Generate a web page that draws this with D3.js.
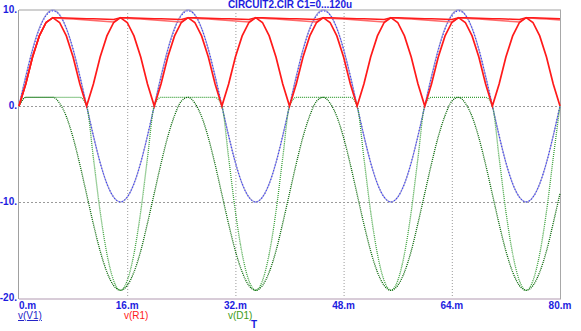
<!DOCTYPE html>
<html><head><meta charset="utf-8">
<script src="https://cdn.jsdelivr.net/npm/d3@7"></script>
<style>body{margin:0;background:#fff;overflow:hidden}</style>
</head><body><svg id="c" width="581" height="331"></svg>
<script>
// sample times (ms)
const timeMs = [0,1,2,3,4,5,6,7,8,9,10,11,12,13,14,15,16,17,18,19,20,21,22,23,24,25,26,27,28,29,30,31,32,33,34,35,36,37,38,39,40,41,42,43,44,45,46,47,48,49,50,51,52,53,54,55,56,57,58,59,60,61,62,63,64,65,66,67,68,69,70,71,72,73,74,75,76,77,78,79,80];
// v(V1), run C1=0
const vV1_a = [0,3.1,5.9,8.1,9.5,10,9.5,8.1,5.9,3.1,0,-3.1,-5.9,-8.1,-9.5,-10,-9.5,-8.1,-5.9,-3.1,
  0,3.1,5.9,8.1,9.5,10,9.5,8.1,5.9,3.1,0,-3.1,-5.9,-8.1,-9.5,-10,-9.5,-8.1,-5.9,-3.1,
  0,3.1,5.9,8.1,9.5,10,9.5,8.1,5.9,3.1,0,-3.1,-5.9,-8.1,-9.5,-10,-9.5,-8.1,-5.9,-3.1,
  0,3.1,5.9,8.1,9.5,10,9.5,8.1,5.9,3.1,0,-3.1,-5.9,-8.1,-9.5,-10,-9.5,-8.1,-5.9,-3.1,0];
// v(V1), run C1=120u
const vV1_b = [0,3.0,5.8,8.0,9.4,9.9,9.5,8.1,5.9,3.1,0,-3.1,-5.9,-8.1,-9.5,-10,-9.5,-8.1,-5.9,-3.1,
  0,3.0,5.8,8.0,9.4,9.9,9.5,8.1,5.9,3.1,0,-3.1,-5.9,-8.1,-9.5,-10,-9.5,-8.1,-5.9,-3.1,
  0,3.0,5.8,8.0,9.4,9.9,9.5,8.1,5.9,3.1,0,-3.1,-5.9,-8.1,-9.5,-10,-9.5,-8.1,-5.9,-3.1,
  0,3.0,5.8,8.0,9.4,9.9,9.5,8.1,5.9,3.1,0,-3.1,-5.9,-8.1,-9.5,-10,-9.5,-8.1,-5.9,-3.1,0];
// v(R1), run C1=0
const vR1_a = [0,2.3,5.1,7.3,8.7,9.2,8.7,7.3,5.1,2.3,0,2.3,5.1,7.3,8.7,9.2,8.7,7.3,5.1,2.3,
  0,2.3,5.1,7.3,8.7,9.2,8.7,7.3,5.1,2.3,0,2.3,5.1,7.3,8.7,9.2,8.7,7.3,5.1,2.3,
  0,2.3,5.1,7.3,8.7,9.2,8.7,7.3,5.1,2.3,0,2.3,5.1,7.3,8.7,9.2,8.7,7.3,5.1,2.3,
  0,2.3,5.1,7.3,8.7,9.2,8.7,7.3,5.1,2.3,0,2.3,5.1,7.3,8.7,9.2,8.7,7.3,5.1,2.3,0];
// v(R1), run C1=60u
const vR1_b = [0,2.3,5.1,7.3,8.7,9.2,9.15,9.1,9.05,9.0,8.95,8.9,8.85,8.8,8.75,9.2,9.15,9.1,9.05,9.0,
  8.95,8.9,8.85,8.8,8.75,9.2,9.15,9.1,9.05,9.0,8.95,8.9,8.85,8.8,8.75,9.2,9.15,9.1,9.05,9.0,
  8.95,8.9,8.85,8.8,8.75,9.2,9.15,9.1,9.05,9.0,8.95,8.9,8.85,8.8,8.75,9.2,9.15,9.1,9.05,9.0,
  8.95,8.9,8.85,8.8,8.75,9.2,9.15,9.1,9.05,9.0,8.95,8.9,8.85,8.8,8.75,9.2,9.15,9.1,9.05,9.0,8.95];
// v(R1), run C1=120u
const vR1_c = [0,2.3,5.1,7.3,8.7,9.2,9.18,9.16,9.14,9.12,9.1,9.08,9.06,9.04,9.02,9.2,9.18,9.16,9.14,9.12,
  9.1,9.08,9.06,9.04,9.02,9.2,9.18,9.16,9.14,9.12,9.1,9.08,9.06,9.04,9.02,9.2,9.18,9.16,9.14,9.12,
  9.1,9.08,9.06,9.04,9.02,9.2,9.18,9.16,9.14,9.12,9.1,9.08,9.06,9.04,9.02,9.2,9.18,9.16,9.14,9.12,
  9.1,9.08,9.06,9.04,9.02,9.2,9.18,9.16,9.14,9.12,9.1,9.08,9.06,9.04,9.02,9.2,9.18,9.16,9.14,9.12,9.1];
// v(D1), run C1=0
const vD1_a = [0,0.9,0.9,0.9,0.9,0.9,0.9,0.9,0.9,0.9,0,-5.4,-11.0,-15.4,-18.2,-19.2,-18.2,-15.4,-11.0,-5.4,
  0,0.9,0.9,0.9,0.9,0.9,0.9,0.9,0.9,0.9,0,-5.4,-11.0,-15.4,-18.2,-19.2,-18.2,-15.4,-11.0,-5.4,
  0,0.9,0.9,0.9,0.9,0.9,0.9,0.9,0.9,0.9,0,-5.4,-11.0,-15.4,-18.2,-19.2,-18.2,-15.4,-11.0,-5.4,
  0,0.9,0.9,0.9,0.9,0.9,0.9,0.9,0.9,0.9,0,-5.4,-11.0,-15.4,-18.2,-19.2,-18.2,-15.4,-11.0,-5.4,0];
// v(D1), run C1=120u
const vD1_c = [0,0.9,0.9,0.9,0.9,0.9,0.3,-1.1,-3.3,-6.1,-9.2,-12.3,-15.1,-17.3,-18.7,-19.2,-18.7,-17.3,-15.1,-12.2,
  -9.1,-6.0,-3.2,-1.0,0.5,0.9,0.3,-1.1,-3.3,-6.1,-9.2,-12.3,-15.1,-17.3,-18.7,-19.2,-18.7,-17.3,-15.1,-12.2,
  -9.1,-6.0,-3.2,-1.0,0.5,0.9,0.3,-1.1,-3.3,-6.1,-9.2,-12.3,-15.1,-17.3,-18.7,-19.2,-18.7,-17.3,-15.1,-12.2,
  -9.1,-6.0,-3.2,-1.0,0.5,0.9,0.3,-1.1,-3.3,-6.1,-9.2,-12.3,-15.1,-17.3,-18.7,-19.2,-18.7,-17.3,-15.1,-12.2,-9.1];

const xTicks = [0,16,32,48,64,80];
const xTickLabels = ["0.m","16.m","32.m","48.m","64.m","80.m"];
const yTicks = [10,0,-10,-20];
const yTickLabels = ["10.","0.","-10.","-20."];
const titleText = "CIRCUIT2.CIR C1=0...120u";
const legendNames = ["v(V1)","v(R1)","v(D1)"];

const svg = d3.select("#c");
const x = d3.scaleLinear().domain([0,80]).range([19,560]);
const y = d3.scaleLinear().domain([-20,10]).range([298,10]);
const FONT = "'Liberation Sans', Arial, sans-serif";
const BLUE = "#1c1ce0";

// grid
const g = svg.append("g");
g.selectAll("line.vg").data(xTicks.slice(1,-1)).enter().append("line")
  .attr("x1",d=>x(d)+0.5).attr("x2",d=>x(d)+0.5).attr("y1",y(10)).attr("y2",y(-20))
  .attr("stroke","#9a9a9a").attr("stroke-width",1).attr("stroke-dasharray","1,2");
g.selectAll("line.hg").data([0,-10]).enter().append("line")
  .attr("x1",x(0)).attr("x2",x(80)).attr("y1",d=>y(d)+0.5).attr("y2",d=>y(d)+0.5)
  .attr("stroke","#9a9a9a").attr("stroke-width",1).attr("stroke-dasharray","2,2");
// frame
g.append("line").attr("x1",x(0)).attr("x2",x(80)+1).attr("y1",y(10)).attr("y2",y(10)).attr("stroke","#d0d0d0").attr("stroke-width",2);
g.append("line").attr("x1",x(0)).attr("x2",x(80)+1).attr("y1",y(-20)+1).attr("y2",y(-20)+1).attr("stroke","#d8ccd8").attr("stroke-width",2);
g.append("line").attr("x1",x(0)-0.5).attr("x2",x(0)-0.5).attr("y1",y(10)).attr("y2",y(-20)+1).attr("stroke","#a0a0a0").attr("stroke-width",1);
g.append("line").attr("x1",x(80)+0.5).attr("x2",x(80)+0.5).attr("y1",y(10)).attr("y2",y(-20)+1).attr("stroke","#a8a8a8").attr("stroke-width",1);

const mk = (vals, curve) => d3.line().x((d,i)=>x(timeMs[i])).y(d=>y(d)).curve(curve)(vals);
const plot = svg.append("g");
// blue
plot.append("path").attr("d",mk(vV1_a,d3.curveMonotoneX)).attr("fill","none").attr("stroke","#a4a4d0").attr("stroke-width",1.3);
plot.append("path").attr("d",mk(vV1_b,d3.curveMonotoneX)).attr("fill","none").attr("stroke","#3a3aff").attr("stroke-width",1.2).attr("stroke-dasharray","1,2");
// green
plot.append("path").attr("d",mk(vD1_a,d3.curveMonotoneX)).attr("fill","none").attr("stroke","#3aa03a").attr("stroke-width",1.3).attr("stroke-dasharray","1,1");
plot.append("path").attr("d",mk(vD1_c,d3.curveMonotoneX)).attr("fill","none").attr("stroke","#006400").attr("stroke-width",1.3).attr("stroke-dasharray","1,1");
// red
plot.append("path").attr("d",mk(vR1_b,d3.curveLinear)).attr("fill","none").attr("stroke","#ff6a6a").attr("stroke-width",1.5);
plot.append("path").attr("d",mk(vR1_c,d3.curveLinear)).attr("fill","none").attr("stroke","#ff1a1a").attr("stroke-width",1.5);
plot.append("path").attr("d",mk(vR1_a,d3.curveLinear)).attr("fill","none").attr("stroke","#ff1a1a").attr("stroke-width",1.7);

// axis labels
svg.selectAll("text.yl").data(yTicks).enter().append("text")
  .attr("x",17).attr("y",d=>y(d)+3).attr("text-anchor","end")
  .attr("font-family",FONT).attr("font-weight","bold").attr("font-size",10).attr("fill",BLUE)
  .text((d,i)=>yTickLabels[i]);
svg.selectAll("text.xl").data(xTicks).enter().append("text")
  .attr("x",d=>x(d)).attr("y",309).attr("text-anchor",(d,i)=>i===0?"start":"middle")
  .attr("font-family",FONT).attr("font-weight","bold").attr("font-size",10).attr("fill",BLUE)
  .text((d,i)=>xTickLabels[i]);
// title
svg.append("text").attr("x",290).attr("y",8).attr("text-anchor","middle")
  .attr("font-family",FONT).attr("font-weight","bold").attr("font-size",10).attr("fill",BLUE).text(titleText);
// legend
const legColors = ["#2424c8","#ff2020","#3c9a14"];
const legX = [18,124,228];
legendNames.forEach((n,i)=>{
  const t = svg.append("text").attr("x",legX[i]).attr("y",319)
    .attr("font-family",FONT).attr("font-size",10).attr("fill",legColors[i]).text(n);
  if(i===0) t.attr("text-decoration","underline");
});
svg.append("text").attr("x",251).attr("y",328).attr("font-family",FONT).attr("font-weight","bold").attr("font-size",10).attr("fill",BLUE).text("T");
</script>
</body></html>
